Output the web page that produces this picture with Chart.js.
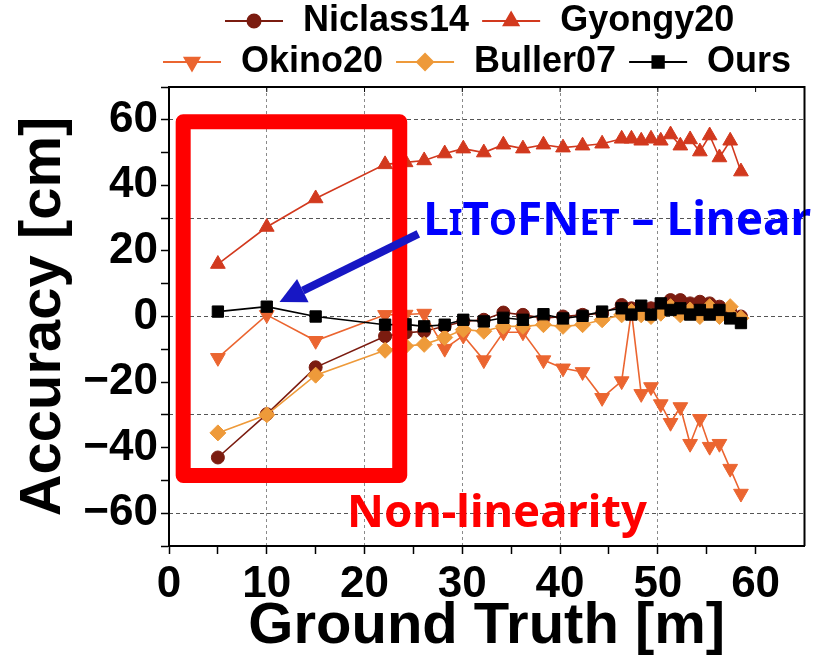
<!DOCTYPE html>
<html>
<head>
<meta charset="utf-8">
<script src="https://cdn.jsdelivr.net/npm/chart.js@4.4.1/dist/chart.umd.min.js"></script>
<style>
  html, body { margin: 0; padding: 0; background: #fff; }
  #wrap { width: 814px; height: 659px; position: relative; }
</style>
</head>
<body>
<div id="wrap"><canvas id="accChart"></canvas></div>
<script>
// Ground truth distance [m] (shared by every method)
const groundTruth = [5, 10, 15, 22.1, 24.2, 26.1, 28.2, 30.1, 32.2, 34.2, 36.2, 38.3, 40.3, 42.3, 44.3, 46.3, 47.3, 48.3, 49.3, 50.3, 51.3, 52.3, 53.3, 54.3, 55.3, 56.3, 57.4, 58.5];

// Accuracy [cm]
const niclass14 = [-43, -29.8, -15.5, -6, -5, -4.5, -3, -1.5, -1, 1.2, 0.5, -0.5, 0, 0.5, 1, 3.5, 2.5, 2.5, 2.5, 3.5, 5, 5, 4, 4.5, 4, 3, 1.5, 0];
const gyongy20 = [16, 27.3, 36, 46.4, 47, 47.6, 49.7, 51.2, 50, 52.4, 51.2, 52.4, 51.5, 52.1, 52.7, 54.2, 54.2, 53.6, 54.2, 53.6, 55.5, 52.1, 54, 50.3, 55.2, 48.5, 53.6, 44.2];
const okino20 = [-12.6, 0.5, -7.4, 0.5, 0.6, 0.9, -9.8, -5.8, -13.3, -4.8, -4.8, -13.3, -15.8, -16.9, -24.8, -19.7, 1.5, -23.6, -21.5, -26.7, -32.4, -27.6, -38.8, -31.2, -39.7, -38.8, -46.4, -54];
const buller07 = [-35.5, -30, -17.9, -10.3, -9, -8.5, -6.4, -4, -4.5, -3, -3, -2.5, -3, -2.5, -1, 0.5, 1.5, 0.5, 0, 1, 3, 0.5, 2, 0, 3, 0, 3, -0.5];
const ours = [1.5, 3, 0, -2.5, -2.4, -3, -2.5, -1, -1.5, -0.4, -1, 0.7, -0.6, 0.2, 1.5, 2.5, 0.6, 3.3, 0.6, 4, 2, 2.5, 0.6, 2, 0.6, 2, -0.6, -2];

// Axis ticks
const xTicks = [0, 5, 10, 15, 20, 25, 30, 35, 40, 45, 50, 55, 60];
const yTicks = [-70, -60, -50, -40, -30, -20, -10, 0, 10, 20, 30, 40, 50, 60, 70];
const yGridLines = [-60, -30, 0, 30, 60];

const FONT = '"Liberation Sans", Arial, sans-serif';
const ANNO_FONT = '"Noto Sans", "Open Sans", sans-serif';

function toPoints(arr) {
  return groundTruth.map((x, i) => ({ x: x, y: arr[i] }));
}

function series(label, arr, color, style, radius, rotation, order) {
  return {
    label: label,
    data: toPoints(arr),
    borderColor: color,
    backgroundColor: color,
    borderWidth: 1.6,
    pointStyle: style,
    pointRadius: radius,
    pointRotation: rotation,
    pointBorderWidth: 1,
    pointBackgroundColor: color,
    pointBorderColor: color,
    tension: 0,
    order: order
  };
}

const datasets = [
  series('Niclass14', niclass14, '#7B1C10', 'circle', 6.5, 0, 4),
  series('Gyongy20', gyongy20, '#D2391E', 'triangle', 8.5, 0, 3),
  series('Okino20', okino20, '#EB6530', 'triangle', 8.5, 180, 2),
  series('Buller07', buller07, '#EE9A3A', 'rectRot', 8, 0, 1),
  series('Ours', ours, '#000000', 'rect', 8, 0, 0)
];

// legend laid out in two rows like the original figure
const legendRows = [
  { startX: 225, y: 21, items: [0, 1] },
  { startX: 163, y: 62, items: [2, 3, 4] }
];

const legendPlugin = {
  id: 'twoRowLegend',
  afterDraw(chart) {
    const ctx = chart.ctx;
    ctx.save();
    ctx.font = 'bold 36px ' + FONT;
    ctx.textBaseline = 'middle';
    legendRows.forEach(row => {
      let x = row.startX;
      row.items.forEach(idx => {
        const ds = chart.data.datasets[idx];
        ctx.strokeStyle = ds.borderColor;
        ctx.fillStyle = ds.borderColor;
        ctx.lineWidth = 2;
        ctx.beginPath();
        ctx.moveTo(x, row.y);
        ctx.lineTo(x + 58, row.y);
        ctx.stroke();
        Chart.helpers.drawPoint(ctx, {
          pointStyle: ds.pointStyle, radius: ds.pointRadius, rotation: ds.pointRotation, borderWidth: 1
        }, x + 29, row.y);
        ctx.fillStyle = '#000';
        ctx.fillText(ds.label, x + 78, row.y);
        x += 78 + ctx.measureText(ds.label).width + 13;
      });
    });
    ctx.restore();
  }
};

// plot frame (top / right) with inward ticks on top
const framePlugin = {
  id: 'frame',
  afterDraw(chart) {
    const { ctx, chartArea: a, scales } = chart;
    ctx.save();
    ctx.strokeStyle = '#000';
    ctx.lineWidth = 2;
    ctx.beginPath();
    ctx.moveTo(a.left, a.top);
    ctx.lineTo(a.right, a.top);
    ctx.lineTo(a.right, a.bottom);
    ctx.stroke();
    ctx.lineWidth = 1;
    xTicks.filter(v => v % 10 === 0).forEach(v => {
      const px = scales.x.getPixelForValue(v);
      ctx.beginPath();
      ctx.moveTo(px, a.top);
      ctx.lineTo(px, a.top + 5);
      ctx.stroke();
    });
    ctx.restore();
  }
};

function drawPieces(ctx, pieces, baseSize, x, y, targetWidth, color) {
  const measure = s => {
    let w = 0;
    pieces.forEach(p => {
      ctx.font = 'bold ' + (s * p[1]) + 'px ' + ANNO_FONT;
      w += ctx.measureText(p[0]).width;
    });
    return w;
  };
  const size = baseSize * targetWidth / measure(baseSize);
  ctx.fillStyle = color;
  ctx.textBaseline = 'alphabetic';
  let cx = x;
  pieces.forEach(p => {
    ctx.font = 'bold ' + (size * p[1]) + 'px ' + ANNO_FONT;
    ctx.fillText(p[0], cx, y);
    cx += ctx.measureText(p[0]).width;
  });
}

// highlight box, arrow and the two labels
const annotationPlugin = {
  id: 'annotations',
  afterDatasetsDraw(chart) {
    const { ctx, scales: { x, y } } = chart;
    ctx.save();

    // red box around the near-range region
    const bx1 = x.getPixelForValue(1.45), bx2 = x.getPixelForValue(23.6);
    const by1 = y.getPixelForValue(59.4), by2 = y.getPixelForValue(-48.5);
    ctx.strokeStyle = '#FF0000';
    ctx.lineWidth = 15;
    ctx.lineJoin = 'round';
    ctx.strokeRect(bx1, by1, bx2 - bx1, by2 - by1);

    // blue arrow pointing at our 10 m sample
    const tx = x.getPixelForValue(25.5), ty = y.getPixelForValue(25.2);
    const hx = x.getPixelForValue(11.3), hy = y.getPixelForValue(4.4);
    const ang = Math.atan2(hy - ty, hx - tx);
    const headLen = 26, headHalf = 13;
    const bx = hx - headLen * Math.cos(ang), by = hy - headLen * Math.sin(ang);
    ctx.strokeStyle = '#1717C4';
    ctx.fillStyle = '#1717C4';
    ctx.lineWidth = 8;
    ctx.lineCap = 'butt';
    ctx.beginPath();
    ctx.moveTo(tx, ty);
    ctx.lineTo(bx, by);
    ctx.stroke();
    ctx.beginPath();
    ctx.moveTo(hx, hy);
    ctx.lineTo(bx + headHalf * Math.sin(ang), by - headHalf * Math.cos(ang));
    ctx.lineTo(bx - headHalf * Math.sin(ang), by + headHalf * Math.cos(ang));
    ctx.closePath();
    ctx.fill();

    // "LiToFNet – Linear" in small caps
    drawPieces(ctx, [['L', 1], ['I', 0.77], ['T', 1], ['O', 0.77], ['F', 1], ['N', 1], ['ET', 0.77], [' \u2013 Linear', 1]],
      48, x.getPixelForValue(26.0), y.getPixelForValue(24.8), 388, '#0000FF');

    drawPieces(ctx, [['Non-linearity', 1]], 46, x.getPixelForValue(18.2), y.getPixelForValue(-64.2), 300, '#FF0000');

    ctx.restore();
  }
};

new Chart(document.getElementById('accChart'), {
  type: 'line',
  data: { datasets: datasets },
  options: {
    responsive: true,
    maintainAspectRatio: false,
    animation: false,
    layout: { padding: { top: 87, right: 8, left: 0, bottom: 0 } },
    plugins: {
      legend: { display: false },
      tooltip: { enabled: false }
    },
    scales: {
      x: {
        type: 'linear',
        min: 0,
        max: 65,
        afterBuildTicks: axis => { axis.ticks = xTicks.map(v => ({ value: v })); },
        afterFit: axis => { axis.height = 113; },
        grid: {
          color: ctx => (ctx.tick && ctx.tick.value >= 10 && ctx.tick.value <= 50 && ctx.tick.value % 10 === 0) ? '#8a8a8a' : 'rgba(0,0,0,0)',
          lineWidth: 1,
          tickColor: '#000',
          tickLength: 8,
          tickWidth: 1.5
        },
        border: { display: true, color: '#000', width: 2, dash: [3, 3] },
        ticks: {
          color: '#000',
          padding: 4,
          maxRotation: 0,
          autoSkip: false,
          font: { family: FONT, size: 44, weight: 'bold' },
          callback: v => (v % 10 === 0 ? String(v) : '')
        },
        title: {
          display: true,
          text: 'Ground Truth [m]',
          color: '#000',
          padding: { top: 0, bottom: -3 },
          font: { family: FONT, size: 58, weight: 'bold' }
        }
      },
      y: {
        min: -70,
        max: 70,
        afterBuildTicks: axis => { axis.ticks = yTicks.map(v => ({ value: v })); },
        afterFit: axis => { axis.width = 169; },
        grid: { drawOnChartArea: false, tickColor: '#000', tickLength: 8, tickWidth: 1.5 },
        border: { display: true, color: '#000', width: 2 },
        ticks: {
          color: '#000',
          padding: 3,
          autoSkip: false,
          font: { family: FONT, size: 44, weight: 'bold' },
          callback: v => (v % 20 === 0 ? (v < 0 ? '\u2212' + Math.abs(v) : String(v)) : '')
        },
        title: {
          display: true,
          text: 'Accuracy [cm]',
          color: '#000',
          padding: { top: 9, bottom: 0 },
          font: { family: FONT, size: 58, weight: 'bold' }
        }
      },
      yg: {
        position: 'right',
        min: -70,
        max: 70,
        afterBuildTicks: axis => { axis.ticks = yGridLines.map(v => ({ value: v })); },
        afterFit: axis => { axis.width = 0; },
        ticks: { display: false },
        grid: { color: '#555', lineWidth: 1, drawTicks: false },
        border: { display: false, dash: [4, 3] }
      }
    }
  },
  plugins: [annotationPlugin, framePlugin, legendPlugin]
});
</script>
</body>
</html>
